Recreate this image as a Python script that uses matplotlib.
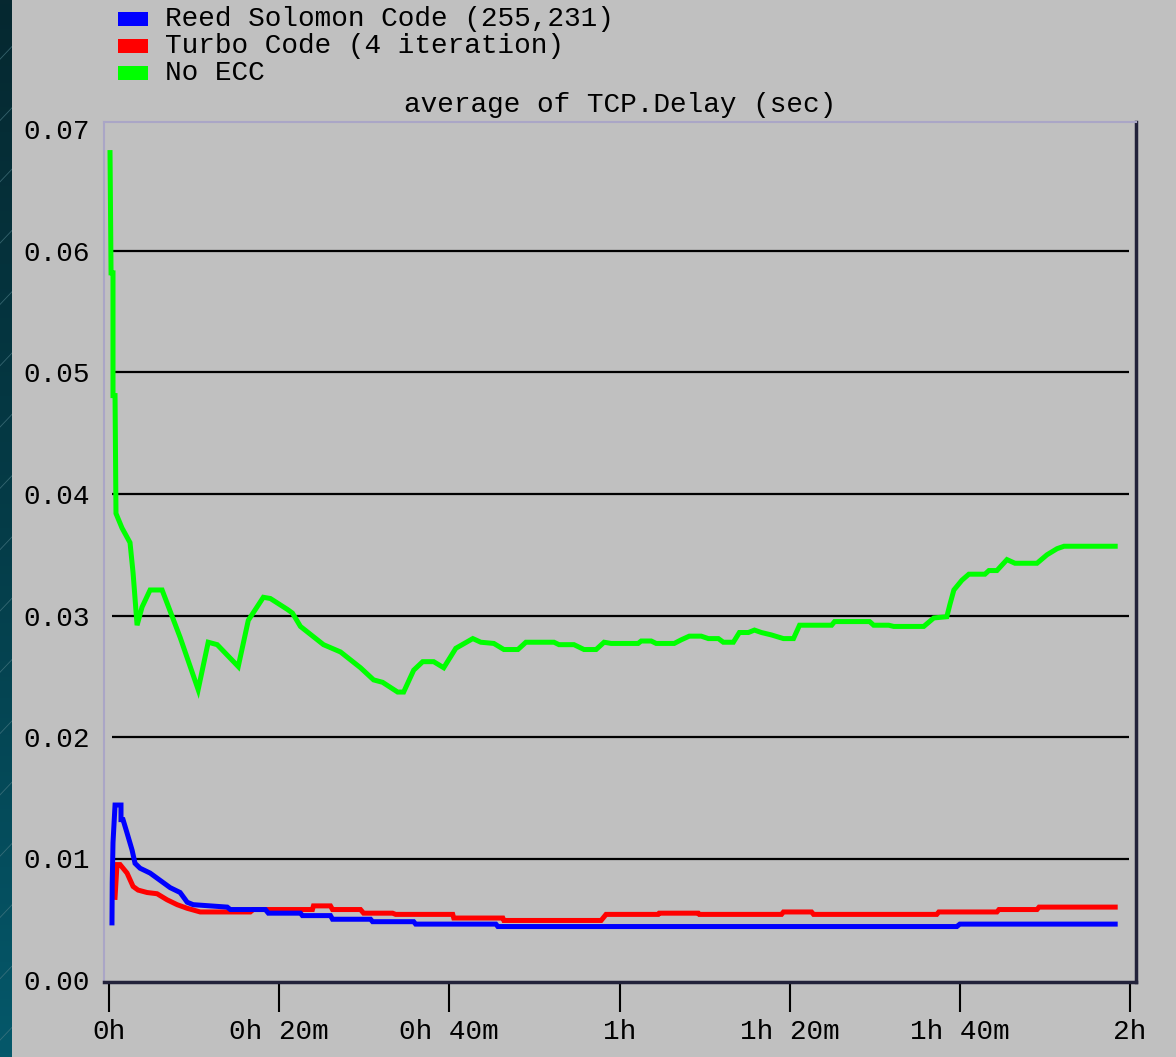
import numpy as np
import matplotlib
matplotlib.use("Agg")
import matplotlib.pyplot as plt
from matplotlib.patches import Rectangle
from matplotlib.lines import Line2D

W, H, DPI = 1176, 1057, 100

# ---------------- data (time in minutes, delay in seconds) ----------------
title = "average of TCP.Delay (sec)"
series_labels = ["Reed Solomon Code (255,231)", "Turbo Code (4 iteration)", "No ECC"]
series_colors = ["#0000ff", "#ff0000", "#00ff00"]

x_ticks = [0, 20, 40, 60, 80, 100, 120]
x_ticklabels = ["0h", "0h 20m", "0h 40m", "1h", "1h 20m", "1h 40m", "2h"]
y_ticks = [0.00, 0.01, 0.02, 0.03, 0.04, 0.05, 0.06, 0.07]
y_ticklabels = ["0.00", "0.01", "0.02", "0.03", "0.04", "0.05", "0.06", "0.07"]

rs_t = [0.35, 0.38, 0.47, 0.71, 1.41, 1.41, 1.65, 2.12, 2.71, 3.06, 3.65, 4.83,
        6.01, 7.19, 8.36, 9.19, 9.89, 13.90, 14.25, 18.38, 18.73, 22.50, 22.73,
        26.03, 26.27, 30.74, 30.98, 35.81, 36.04, 45.47, 45.70, 99.65, 100.00, 118.26]
rs_v = [0.0047, 0.0080, 0.0113, 0.0144, 0.0144, 0.0132, 0.0132, 0.0121, 0.0107,
        0.0096, 0.0092, 0.0088, 0.0082, 0.0076, 0.0072, 0.0064, 0.0062, 0.0060,
        0.0058, 0.0058, 0.0055, 0.0055, 0.0053, 0.0053, 0.0050, 0.0050, 0.0048,
        0.0048, 0.0046, 0.0046, 0.0044, 0.0044, 0.0046, 0.0046]

tc_t = [0.71, 0.94, 1.30, 2.12, 2.83, 3.42, 4.48, 5.65, 6.83, 8.01, 9.19, 10.72,
        16.61, 16.96, 23.91, 24.03, 26.03, 26.27, 29.56, 29.92, 33.33, 33.69,
        40.40, 40.52, 46.29, 46.41, 57.84, 58.42, 64.55, 64.67, 69.26, 69.38,
        79.04, 79.27, 82.57, 82.81, 97.29, 97.53, 104.36, 104.60, 109.07, 109.31, 118.26]
tc_v = [0.0068, 0.0095, 0.0095, 0.0088, 0.0077, 0.0074, 0.0072, 0.0071, 0.0066,
        0.0062, 0.0059, 0.0056, 0.0056, 0.0058, 0.0058, 0.0061, 0.0061, 0.0058,
        0.0058, 0.0055, 0.0055, 0.0054, 0.0054, 0.0051, 0.0051, 0.0049, 0.0049,
        0.0054, 0.0054, 0.0055, 0.0055, 0.0054, 0.0054, 0.0056, 0.0056, 0.0054,
        0.0054, 0.0056, 0.0056, 0.0058, 0.0058, 0.0060, 0.0060]

ne_t = [0.12, 0.24, 0.47, 0.47, 0.71, 0.82, 1.53, 2.47, 2.83, 3.30, 3.89, 4.83,
        6.24, 8.36, 10.48, 11.66, 12.72, 15.19, 16.37, 18.14, 18.96, 20.97, 21.56,
        22.50, 25.21, 27.21, 29.56, 31.10, 32.16, 33.92, 34.63, 35.81, 36.87, 38.16,
        39.34, 40.76, 42.76, 43.70, 45.23, 46.41, 48.06, 49.00, 52.30, 52.89, 54.65,
        55.83, 57.25, 58.19, 59.01, 62.19, 62.55, 63.73, 64.31, 66.43, 67.26, 68.20,
        69.61, 70.44, 71.62, 72.20, 73.38, 74.09, 75.15, 75.86, 76.68, 77.86, 79.27,
        80.45, 81.16, 84.93, 85.28, 89.40, 89.87, 91.64, 92.23, 95.76, 96.94, 98.47,
        98.83, 99.30, 100.24, 101.06, 102.95, 103.42, 104.36, 105.54, 106.48, 109.07,
        110.25, 111.43, 112.25, 118.26]
ne_v = [0.0681, 0.0582, 0.0582, 0.0481, 0.0481, 0.0384, 0.0372, 0.0360, 0.0335,
        0.0292, 0.0307, 0.0321, 0.0321, 0.0282, 0.0239, 0.0278, 0.0276, 0.0258,
        0.0296, 0.0315, 0.0314, 0.0305, 0.0302, 0.0291, 0.0276, 0.0270, 0.0257,
        0.0247, 0.0245, 0.0237, 0.0237, 0.0255, 0.0262, 0.0262, 0.0257, 0.0273,
        0.0281, 0.0278, 0.0277, 0.0272, 0.0272, 0.0278, 0.0278, 0.0276, 0.0276,
        0.0272, 0.0272, 0.0278, 0.0277, 0.0277, 0.0279, 0.0279, 0.0277, 0.0277,
        0.0280, 0.0283, 0.0283, 0.0281, 0.0281, 0.0278, 0.0278, 0.0286, 0.0286,
        0.0288, 0.0286, 0.0284, 0.0281, 0.0281, 0.0292, 0.0292, 0.0295, 0.0295,
        0.0292, 0.0292, 0.0291, 0.0291, 0.0298, 0.0299, 0.0309, 0.0321, 0.0329,
        0.0334, 0.0334, 0.0337, 0.0337, 0.0346, 0.0343, 0.0343, 0.0350, 0.0355,
        0.0357, 0.0357]

# ---------------- style ----------------
BG = "#c0c0c0"
FONT = "Liberation Mono"
FS = 20
plt.rcParams["font.family"] = [FONT, "DejaVu Sans Mono"]

fig = plt.figure(figsize=(W / DPI, H / DPI), dpi=DPI, facecolor=BG)

def fx(px):
    return px / W

def fy(py):
    return 1 - py / H

# left decorative strip
sax = fig.add_axes([0, 0, fx(12), 1])
grad = np.linspace(0, 1, 256).reshape(-1, 1)
from matplotlib.colors import LinearSegmentedColormap
cm = LinearSegmentedColormap.from_list("strip", ["#062830", "#043c48", "#05586a"])
sax.imshow(grad, aspect="auto", cmap=cm, extent=[0, 1, 0, 1], origin="upper")
for k in np.arange(-0.1, 1.05, 0.058):
    sax.plot([0, 1], [k, k + 0.012], color="#4a7a84", lw=0.6, alpha=0.7)
sax.set_xlim(0, 1)
sax.set_ylim(0, 1)
sax.axis("off")

# main axes
left, right, top, bottom = 104, 1136, 122, 982
ax = fig.add_axes([fx(left), fy(bottom), fx(right - left), (bottom - top) / H])
ax.set_facecolor(BG)

px_per_min = (1130 - 109) / 120.0
ax.set_xlim(-(109 - left) / px_per_min, 120 + (right - 1130) / px_per_min)
px_per_unit = 121.5 / 0.01
ax.set_ylim(-(bottom - 980) / px_per_unit, (980 - top) / px_per_unit)

ax.hlines(y_ticks[1:-1], 0.35, 119.9, color="black", lw=1.6, zorder=1)

lw = 3.6
ax.plot(ne_t, ne_v, color=series_colors[2], lw=lw, zorder=3, solid_joinstyle="miter")
ax.plot(tc_t, tc_v, color=series_colors[1], lw=lw, zorder=4, solid_joinstyle="miter")
ax.plot(rs_t, rs_v, color=series_colors[0], lw=lw, zorder=5, solid_joinstyle="miter")

for s in ["left", "top"]:
    ax.spines[s].set_color("#aaa6c6")
    ax.spines[s].set_linewidth(1.5)
for s in ["right", "bottom"]:
    ax.spines[s].set_color("#22223a")
    ax.spines[s].set_linewidth(2.5)

ax.set_xticks(x_ticks)
ax.set_xticklabels(x_ticklabels, fontsize=FS, fontfamily=FONT)
ax.set_yticks(y_ticks)
ax.set_yticklabels(y_ticklabels, fontsize=FS, fontfamily=FONT)
ax.tick_params(axis="x", length=21.5, width=1.5, color="black", pad=5, labelcolor="black")
ax.tick_params(axis="y", length=0, pad=10, labelcolor="black")

ax.set_title(title, fontsize=FS, fontfamily=FONT, pad=7, color="black")

# legend (manual, figure coordinates)
leg_rows = [19, 46, 73]
for lab, col, yc in zip(series_labels, series_colors, leg_rows):
    fig.add_artist(Rectangle((fx(118), fy(yc + 7)), fx(30), 14 / H,
                             transform=fig.transFigure, facecolor=col,
                             edgecolor="none"))
    fig.text(fx(165), fy(yc), lab, fontsize=FS, fontfamily=FONT,
             va="center", ha="left", color="black")

fig.savefig("out.png", dpi=DPI, facecolor=BG)
